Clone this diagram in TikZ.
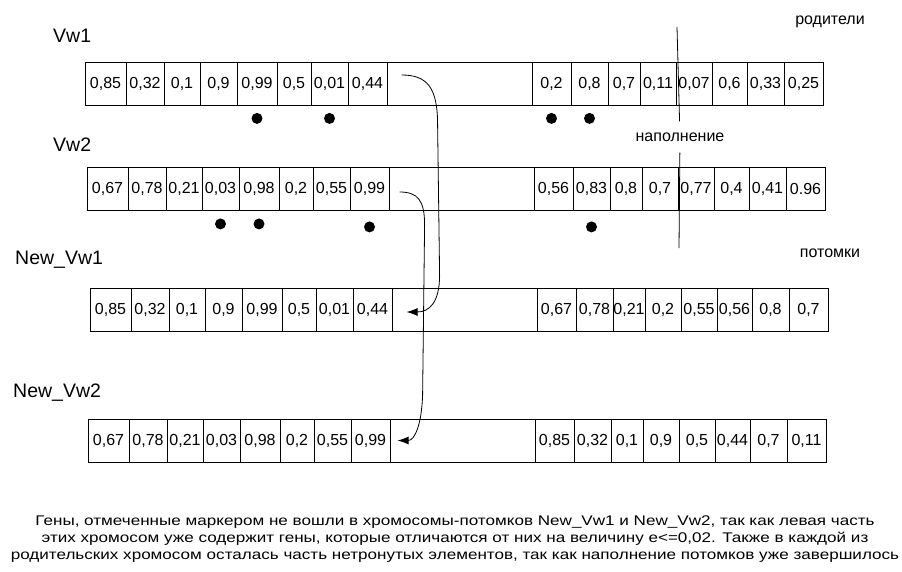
\documentclass[tikz,border=0pt]{standalone}
\usepackage{fontspec}
\setmainfont{Liberation Sans}
\newfontfamily\widefont[FakeStretch=1.22]{Liberation Sans}
\usetikzlibrary{arrows.meta}

\tikzset{
  gene/.style={draw, line width=0.8pt, minimum height=43pt, inner sep=0pt,
    font=\fontsize{16}{18}\selectfont},
  rowname/.style={anchor=west, inner sep=0pt, font=\fontsize{19.5}{22}\selectfont},
  note/.style={inner sep=0pt, font=\fontsize{16}{18}\selectfont},
  move/.style={-{Latex[length=11pt,width=8pt]}, line width=0.8pt},
}

% cell borders, measured from the left end of a chromosome
\def\geneedges{{0,41,79,115,152,192,226,263,302,447,486,523,555,591,627,662,699,738}}

% #1 name, #2 left x, #3 middle y, #4 the 17 cells
\newcommand\chromosome[4]{%
  \foreach \v [count=\i] in {#4} {
    \pgfmathsetmacro\xa{#2+\geneedges[\i-1]}
    \pgfmathsetmacro\xb{#2+\geneedges[\i]}
    \node[gene, minimum width={(\xb-\xa)*1pt}] (#1-\i) at ({(\xa+\xb)/2}, #3) {\v};
  }}

\begin{document}
\begin{tikzpicture}[x=1pt, y=-1pt]
    \useasboundingbox (0,0) rectangle (902,571);

    % --- parents ---
    \node[rowname] (lv1) at (53,36) {Vw1};
    \chromosome{v1}{85}{83.5}{{0,85},{0,32},{0,1},{0,9},{0,99},{0,5},{0,01},{0,44},{},
      {0,2},{0,8},{0,7},{0,11},{0,07},{0,6},{0,33},{0,25}}
    \foreach \c in {5,7,10,11} \fill ([yshift=-13pt]v1-\c.south) circle (5.5pt);

    \node[rowname] (lv2) at (53,145) {Vw2};
    \chromosome{v2}{87}{189}{{0,67},{0,78},{0,21},{0,03},{0,98},{0,2},{0,55},{0,99},{},
      {0,56},{0,83},{0,8},{0,7},{0,77},{0,4},{0,41},{0.96}}
    \foreach \c in {4,5} \fill ([yshift=-13pt]v2-\c.south) circle (5.5pt);
    \foreach \c in {8,11} \fill ([yshift=-16pt]v2-\c.south) circle (5.5pt);

    % --- offspring ---
    \node[rowname] (ln1) at (15,260) {New\_Vw1};
    \chromosome{n1}{90}{309.5}{{0,85},{0,32},{0,1},{0,9},{0,99},{0,5},{0,01},{0,44},{},
      {0,67},{0,78},{0,21},{0,2},{0,55},{0,56},{0,8},{0,7}}

    \node[rowname] (ln2) at (13,393) {New\_Vw2};
    \chromosome{n2}{88}{440.5}{{0,67},{0,78},{0,21},{0,03},{0,98},{0,2},{0,55},{0,99},{},
      {0,85},{0,32},{0,1},{0,9},{0,5},{0,44},{0,7},{0,11}}

    % right hand labels and the fill border
    \node[note] (parents) at (830,22) {родители};
    \node[note] (children) at (830,253) {потомки};
    \node[note, inner xsep=2pt, inner ysep=11pt] (fill) at (680,137) {наполнение};
    \coordinate (divtop) at (677,27);
    \coordinate (divbot) at (679,248);
    \draw[line width=0.8pt] (divtop) -- (fill) -- (divbot);

    % left parts copied into the offspring
    \coordinate (s1) at ([xshift=15pt,yshift=8.5pt]v1-9.west);
    \coordinate (e1) at ([xshift=15pt,yshift=-2.5pt]n1-9.west);
    \draw[move] (s1) .. controls +(26,0) and +(0,-37) .. ++(36,50) -- ++(2,150)
        .. controls +(0,27) and +(23,0) .. (e1);
    \coordinate (s2) at ([xshift=11pt,yshift=-3pt]v2-9.west);
    \coordinate (e2) at ([xshift=8pt]n2-9.west);
    \draw[move] (s2) .. controls +(18,0) and +(0,-25) .. ++(25,33) -- ++(-2,170)
        .. controls +(-1,30) and +(17,0) .. (e2);

    % caption
    \node[align=center, font=\widefont\fontsize{14}{17}\selectfont] (caption) at (455,539)
      {Гены, отмеченные маркером не вошли в хромосомы-потомков New\_Vw1 и New\_Vw2, так как левая часть\\
       этих хромосом уже содержит гены, которые отличаются от них на величину e<=0,02. Также в каждой из\\
       родительских хромосом осталась часть нетронутых элементов, так как наполнение потомков уже завершилось};
\end{tikzpicture}
\end{document}
